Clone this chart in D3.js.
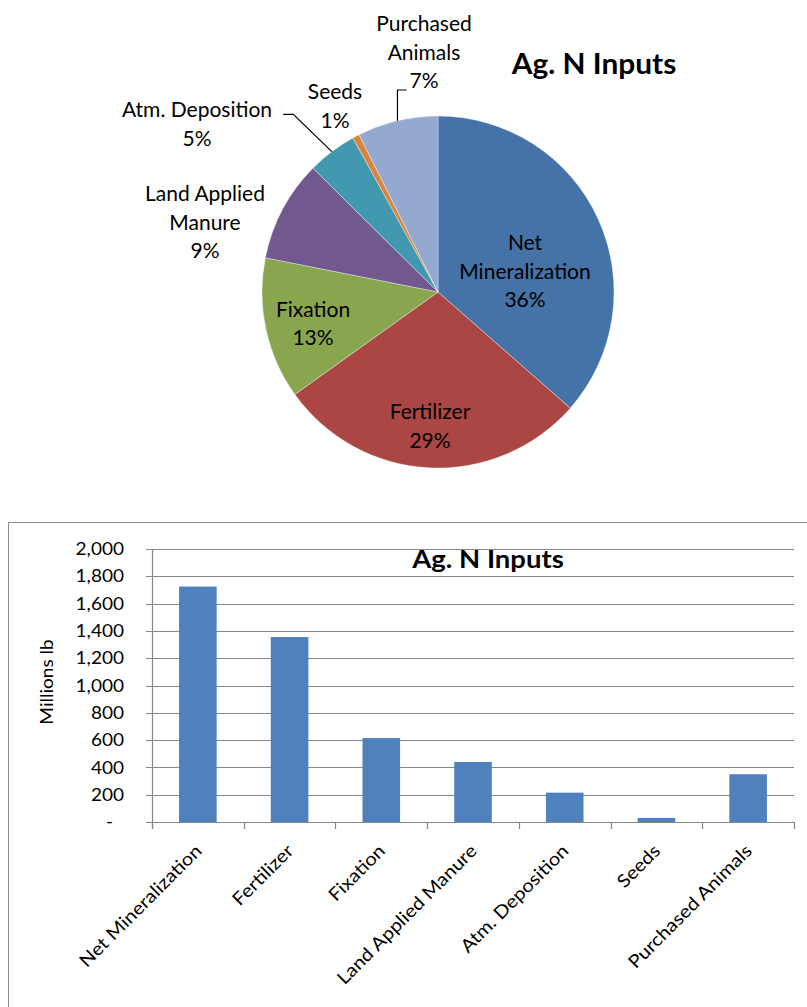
<!DOCTYPE html>
<html>
<head>
<meta charset="utf-8">
<script src="https://cdn.jsdelivr.net/npm/d3@7"></script>
<style>
  html, body { margin: 0; padding: 0; background: #fff; }
  svg { display: block; }
  text { font-family: Lato, "Open Sans", sans-serif; fill: #000; }
</style>
</head>
<body>
<svg id="chart" width="807" height="1007"></svg>
<script>
// ---------------- DATA ----------------
const categories = ["Net Mineralization", "Fertilizer", "Fixation", "Land Applied Manure", "Atm. Deposition", "Seeds", "Purchased Animals"];
const values = [1725, 1355, 615, 440, 215, 30, 350];            // Millions lb
const pieLabelLines = [["Net", "Mineralization"], ["Fertilizer"], ["Fixation"], ["Land Applied", "Manure"], ["Atm. Deposition"], ["Seeds"], ["Purchased", "Animals"]];
const sliceColors = ["#4572A7", "#AA4643", "#89A54E", "#71588F", "#4198AF", "#DB843D", "#93A9CF"];
const yTickValues = [0, 200, 400, 600, 800, 1000, 1200, 1400, 1600, 1800, 2000];
const chartTitle = "Ag. N Inputs";
const yAxisTitle = "Millions lb";

// ---------------- LAYOUT (positions / styles) ----------------
const pieCfg = { cx: 438, cy: 292, r: 176, fontSize: 21, lineH: 28.5, sx: 1.0 };
// label block centre offsets from pie centre
const pieLabelOffsets = [[87, -21], [-8, 134], [-125, 31.5], [-233, -70], [-241, -168], [-103, -186], [-14, -240]];
// leader lines: index -> {elbow offset, end offset, vertical?}
const leaders = {
  4: { elbow: [-144.7, -177.7], end: [-154.7, -177.7] },
  6: { elbowY: -202, endDx: 9 }
};
const barCfg = { left: 152, right: 794, top: 549, bottom: 822, tickFont: 17, labelFont: 18, sx: 1.12 };

const svg = d3.select("#chart");

function stretchText(sel, x, y, sx, rot) {
  sel.attr("transform", `translate(${x},${y})` + (rot ? ` rotate(${rot})` : "") + ` scale(${sx},1)`);
}

// ---------------- PIE ----------------
const total = d3.sum(values);
const pie = d3.pie().sort(null).value(d => d)(values);
const arc = d3.arc().innerRadius(0).outerRadius(pieCfg.r);
const gPie = svg.append("g").attr("transform", `translate(${pieCfg.cx},${pieCfg.cy})`);

gPie.selectAll("path.slice").data(pie).join("path")
  .attr("class", "slice")
  .attr("d", arc)
  .attr("fill", (d, i) => sliceColors[i])
  .attr("stroke", "#ffffff")
  .attr("stroke-opacity", 0.6)
  .attr("stroke-width", 0.6);

// leader lines
pie.forEach((d, i) => {
  const L = leaders[i];
  if (!L) return;
  const a = (d.startAngle + d.endAngle) / 2;
  const p0 = [pieCfg.r * Math.sin(a), -pieCfg.r * Math.cos(a)];
  let pts;
  if (L.elbow) pts = [p0, L.elbow, L.end];
  else pts = [p0, [p0[0], L.elbowY], [p0[0] + L.endDx, L.elbowY]];
  gPie.append("path")
    .attr("d", d3.line()(pts))
    .attr("fill", "none")
    .attr("stroke", "#000")
    .attr("stroke-width", 1.2);
});

// labels
pie.forEach((d, i) => {
  const lines = pieLabelLines[i].concat([Math.round(d.value / total * 100) + "%"]);
  const [ox, oy] = pieLabelOffsets[i];
  const n = lines.length;
  lines.forEach((t, j) => {
    const cyLine = oy + (j - (n - 1) / 2) * pieCfg.lineH;
    const txt = gPie.append("text")
      .attr("text-anchor", "middle")
      .style("font-size", pieCfg.fontSize + "px")
      .text(t);
    stretchText(txt, ox, cyLine + pieCfg.fontSize * 0.36, pieCfg.sx);
  });
});

// pie title
stretchText(svg.append("text")
  .attr("text-anchor", "middle")
  .style("font-size", "29px").style("font-weight", "700")
  .text(chartTitle), 594, 73.5, 1.03);

// ---------------- BAR CHART ----------------
// outer frame
svg.append("rect")
  .attr("x", 8.5).attr("y", 522.5).attr("width", 900).attr("height", 600)
  .attr("fill", "none").attr("stroke", "#8c8c8c").attr("stroke-width", 1);

const x = d3.scaleBand().domain(categories).range([barCfg.left, barCfg.right]).paddingInner(0.59).paddingOuter(0.295);
const y = d3.scaleLinear().domain([0, 2000]).range([barCfg.bottom, barCfg.top]);

const gBar = svg.append("g");

// gridlines
gBar.selectAll("line.grid").data(yTickValues).join("line")
  .attr("class", "grid")
  .attr("x1", barCfg.left - 6).attr("x2", barCfg.right)
  .attr("y1", d => Math.round(y(d)) + 0.5).attr("y2", d => Math.round(y(d)) + 0.5)
  .attr("stroke", "#868686").attr("stroke-width", 1.2);

// y axis line
gBar.append("line")
  .attr("x1", barCfg.left + 0.5).attr("x2", barCfg.left + 0.5)
  .attr("y1", barCfg.top).attr("y2", barCfg.bottom + 7)
  .attr("stroke", "#868686").attr("stroke-width", 1.2);

// category tick marks at band boundaries
const bounds = d3.range(categories.length + 1).map(i => barCfg.left + i * (barCfg.right - barCfg.left) / categories.length);
gBar.selectAll("line.ctick").data(bounds).join("line")
  .attr("class", "ctick")
  .attr("x1", d => Math.round(d) + 0.5).attr("x2", d => Math.round(d) + 0.5)
  .attr("y1", barCfg.bottom).attr("y2", barCfg.bottom + 7)
  .attr("stroke", "#868686").attr("stroke-width", 1.2);

// bars
gBar.selectAll("rect.bar").data(values).join("rect")
  .attr("class", "bar")
  .attr("x", (d, i) => x(categories[i]))
  .attr("width", x.bandwidth())
  .attr("y", d => y(d))
  .attr("height", d => y(0) - y(d))
  .attr("fill", "#4F81BD");

// redraw baseline over bars
gBar.append("line")
  .attr("x1", barCfg.left).attr("x2", barCfg.right)
  .attr("y1", Math.round(y(0)) + 0.5).attr("y2", Math.round(y(0)) + 0.5)
  .attr("stroke", "#868686").attr("stroke-width", 1.2);

// y tick labels
const fmt = d3.format(",");
yTickValues.forEach(v => {
  const t = gBar.append("text")
    .attr("text-anchor", "end")
    .style("font-size", barCfg.tickFont + "px")
    .text(v === 0 ? "-" : fmt(v));
  stretchText(t, v === 0 ? 113 : 124, y(v) + barCfg.tickFont * 0.36, barCfg.sx);
});

// y axis title
stretchText(gBar.append("text")
  .attr("text-anchor", "middle")
  .style("font-size", "17px")
  .text(yAxisTitle), 52.5, 682, barCfg.sx, -90);

// x labels rotated
categories.forEach(c => {
  const cx = x(c) + x.bandwidth() / 2;
  const t = gBar.append("text")
    .attr("text-anchor", "end")
    .style("font-size", barCfg.labelFont + "px")
    .text(c);
  stretchText(t, cx + 5, 852, barCfg.sx, -45);
});

// bar title
stretchText(gBar.append("text")
  .attr("text-anchor", "middle")
  .style("font-size", "25px").style("font-weight", "700")
  .text(chartTitle), 488, 568, 1.1);
</script>
</body>
</html>
